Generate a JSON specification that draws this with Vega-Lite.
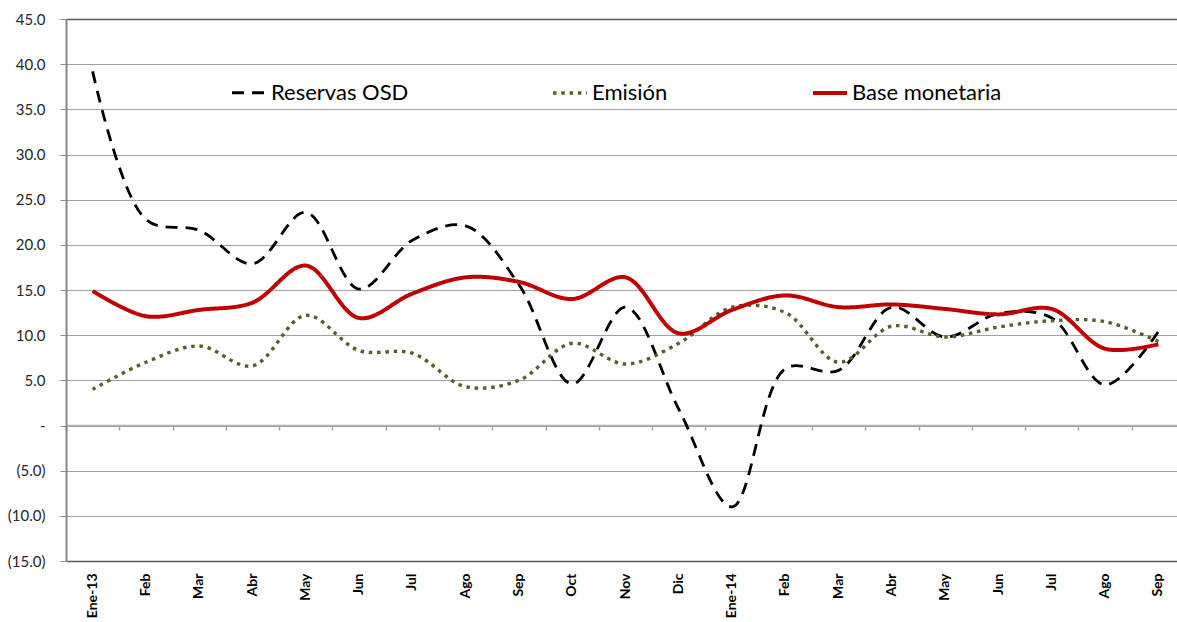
{
  "$schema": "https://vega.github.io/schema/vega-lite/v6.json",
  "width": 1111,
  "height": 542,
  "autosize": {"type": "none"},
  "padding": {"left": 66, "top": 19, "right": 0, "bottom": 61},
  "background": "white",
  "config": {
    "view": {"stroke": null},
    "font": "Lato",
    "axis": {"labelFont": "Lato", "titleFont": "Lato"},
    "legend": {"labelFont": "Lato"}
  },
  "data": {
    "values": [
      {"mes": "Ene-13", "serie": "Reservas OSD", "valor": 39.2},
      {"mes": "Feb-13", "serie": "Reservas OSD", "valor": 22.8},
      {"mes": "Mar-13", "serie": "Reservas OSD", "valor": 21.6},
      {"mes": "Abr-13", "serie": "Reservas OSD", "valor": 17.9},
      {"mes": "May-13", "serie": "Reservas OSD", "valor": 23.6},
      {"mes": "Jun-13", "serie": "Reservas OSD", "valor": 15.1},
      {"mes": "Jul-13", "serie": "Reservas OSD", "valor": 20.5},
      {"mes": "Ago-13", "serie": "Reservas OSD", "valor": 22.1},
      {"mes": "Sep-13", "serie": "Reservas OSD", "valor": 15.6},
      {"mes": "Oct-13", "serie": "Reservas OSD", "valor": 4.6},
      {"mes": "Nov-13", "serie": "Reservas OSD", "valor": 13.1},
      {"mes": "Dic-13", "serie": "Reservas OSD", "valor": 1.8},
      {"mes": "Ene-14", "serie": "Reservas OSD", "valor": -9.0},
      {"mes": "Feb-14", "serie": "Reservas OSD", "valor": 6.3},
      {"mes": "Mar-14", "serie": "Reservas OSD", "valor": 6.1},
      {"mes": "Abr-14", "serie": "Reservas OSD", "valor": 13.1},
      {"mes": "May-14", "serie": "Reservas OSD", "valor": 9.8},
      {"mes": "Jun-14", "serie": "Reservas OSD", "valor": 12.4},
      {"mes": "Jul-14", "serie": "Reservas OSD", "valor": 11.9},
      {"mes": "Ago-14", "serie": "Reservas OSD", "valor": 4.5},
      {"mes": "Sep-14", "serie": "Reservas OSD", "valor": 10.4},
      {"mes": "Ene-13", "serie": "Emisión", "valor": 4.0},
      {"mes": "Feb-13", "serie": "Emisión", "valor": 7.0},
      {"mes": "Mar-13", "serie": "Emisión", "valor": 8.8},
      {"mes": "Abr-13", "serie": "Emisión", "valor": 6.6},
      {"mes": "May-13", "serie": "Emisión", "valor": 12.2},
      {"mes": "Jun-13", "serie": "Emisión", "valor": 8.3},
      {"mes": "Jul-13", "serie": "Emisión", "valor": 8.0},
      {"mes": "Ago-13", "serie": "Emisión", "valor": 4.3},
      {"mes": "Sep-13", "serie": "Emisión", "valor": 5.0},
      {"mes": "Oct-13", "serie": "Emisión", "valor": 9.1},
      {"mes": "Nov-13", "serie": "Emisión", "valor": 6.8},
      {"mes": "Dic-13", "serie": "Emisión", "valor": 9.1},
      {"mes": "Ene-14", "serie": "Emisión", "valor": 13.1},
      {"mes": "Feb-14", "serie": "Emisión", "valor": 12.5},
      {"mes": "Mar-14", "serie": "Emisión", "valor": 7.0},
      {"mes": "Abr-14", "serie": "Emisión", "valor": 11.0},
      {"mes": "May-14", "serie": "Emisión", "valor": 9.8},
      {"mes": "Jun-14", "serie": "Emisión", "valor": 10.9},
      {"mes": "Jul-14", "serie": "Emisión", "valor": 11.6},
      {"mes": "Ago-14", "serie": "Emisión", "valor": 11.5},
      {"mes": "Sep-14", "serie": "Emisión", "valor": 9.3},
      {"mes": "Ene-13", "serie": "Base monetaria", "valor": 14.9},
      {"mes": "Feb-13", "serie": "Base monetaria", "valor": 12.1},
      {"mes": "Mar-13", "serie": "Base monetaria", "valor": 12.8},
      {"mes": "Abr-13", "serie": "Base monetaria", "valor": 13.6},
      {"mes": "May-13", "serie": "Base monetaria", "valor": 17.7},
      {"mes": "Jun-13", "serie": "Base monetaria", "valor": 11.9},
      {"mes": "Jul-13", "serie": "Base monetaria", "valor": 14.6},
      {"mes": "Ago-13", "serie": "Base monetaria", "valor": 16.4},
      {"mes": "Sep-13", "serie": "Base monetaria", "valor": 15.9},
      {"mes": "Oct-13", "serie": "Base monetaria", "valor": 14.0},
      {"mes": "Nov-13", "serie": "Base monetaria", "valor": 16.4},
      {"mes": "Dic-13", "serie": "Base monetaria", "valor": 10.2},
      {"mes": "Ene-14", "serie": "Base monetaria", "valor": 12.8},
      {"mes": "Feb-14", "serie": "Base monetaria", "valor": 14.4},
      {"mes": "Mar-14", "serie": "Base monetaria", "valor": 13.1},
      {"mes": "Abr-14", "serie": "Base monetaria", "valor": 13.4},
      {"mes": "May-14", "serie": "Base monetaria", "valor": 12.9},
      {"mes": "Jun-14", "serie": "Base monetaria", "valor": 12.3},
      {"mes": "Jul-14", "serie": "Base monetaria", "valor": 12.9},
      {"mes": "Ago-14", "serie": "Base monetaria", "valor": 8.5},
      {"mes": "Sep-14", "serie": "Base monetaria", "valor": 9.0}
    ]
  },
  "resolve": {"axis": {"x": "independent"}},
  "layer": [
    {
      "mark": {"type": "line", "opacity": 0},
      "encoding": {
        "x": {
          "field": "mes", "type": "nominal", "sort": null,
          "scale": {"type": "band", "paddingInner": 0, "paddingOuter": 0, "range": [0, 1119]},
          "axis": {
            "orient": "bottom", "offset": -136, "title": null, "labels": false,
            "tickBand": "extent", "ticks": true, "tickSize": 5, "tickColor": "#a6a6a6", "tickWidth": 1.5,
            "domain": true, "domainColor": "#b3b3b3", "domainWidth": 1.5, "grid": false
          }
        },
        "y": {"field": "valor", "type": "quantitative"}
      }
    },
    {
      "mark": {"type": "line", "interpolate": "catmull-rom"},
      "encoding": {
        "x": {
          "field": "mes", "type": "nominal", "sort": null,
          "axis": {
            "orient": "bottom", "title": null, "domain": true, "domainColor": "#595959", "domainWidth": 1.5, "ticks": false, "grid": false,
            "labelAngle": -90, "labelFontSize": 14, "labelFontWeight": "bold", "labelColor": "#000000", "labelPadding": 12,
            "labelExpr": "datum.value == 'Ene-13' || datum.value == 'Ene-14' ? datum.value : slice(datum.value, 0, 3)"
          }
        },
        "y": {
          "field": "valor", "type": "quantitative",
          "scale": {"domain": [-15, 45], "nice": false, "zero": false},
          "axis": {
            "title": null, "values": [-15, -10, -5, 0, 5, 10, 15, 20, 25, 30, 35, 40, 45],
            "labelExpr": "datum.value == 0 ? '-' : (datum.value < 0 ? '(' + format(-datum.value, '.1f') + ')' : format(datum.value, '.1f'))",
            "labelFontSize": 15, "labelColor": "#262626", "labelPadding": 15,
            "tickSize": 6, "tickColor": "#8c8c8c",
            "domain": true, "domainColor": "#868686", "domainWidth": 2,
            "grid": true, "gridColor": {"condition": {"test": "datum.value == 45", "value": "#595959"}, "value": "#a0a0a0"},
            "gridWidth": {"condition": {"test": "datum.value == 45", "value": 1.5}, "value": 1}
          }
        },
        "strokeWidth": {
          "field": "serie", "type": "nominal",
          "scale": {"domain": ["Reservas OSD", "Emisión", "Base monetaria"], "range": [2.8, 4, 3]},
          "legend": null
        },
        "color": {
          "field": "serie", "type": "nominal",
          "scale": {"domain": ["Reservas OSD", "Emisión", "Base monetaria"], "range": ["#000000", "#4F6228", "#C00000"]},
          "legend": {
            "title": null, "orient": "none", "legendX": 164, "legendY": 55, "direction": "horizontal", "columns": 3,
            "symbolType": "stroke", "symbolSize": 1156, "symbolStrokeWidth": 3, "labelFontSize": 22, "labelColor": "#000000",
            "labelOffset": 3, "columnPadding": 137, "padding": 0, "labelLimit": 400
          }
        },
        "strokeDash": {
          "field": "serie", "type": "nominal",
          "scale": {"domain": ["Reservas OSD", "Emisión", "Base monetaria"], "range": [[12, 8], [3.5, 4.8], [1, 0]]},
          "legend": {
            "title": null, "orient": "none", "legendX": 164, "legendY": 55, "direction": "horizontal", "columns": 3,
            "symbolType": "stroke", "symbolSize": 1156, "symbolStrokeWidth": 3, "labelFontSize": 22, "labelColor": "#000000",
            "labelOffset": 3, "columnPadding": 137, "padding": 0, "labelLimit": 400
          }
        }
      }
    }
  ]
}
